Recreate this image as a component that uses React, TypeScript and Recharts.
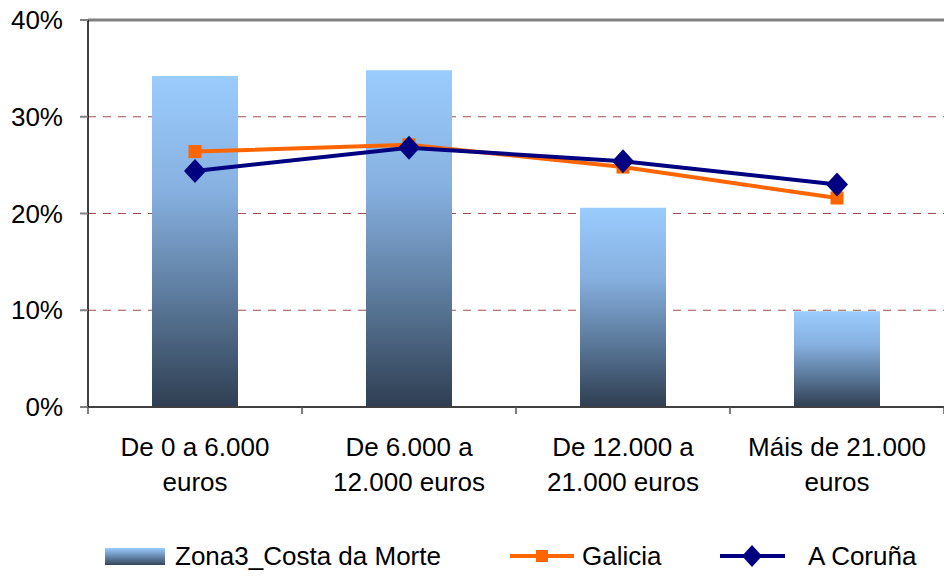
import React from 'react';
import { ComposedChart, Bar, Line, XAxis, YAxis, CartesianGrid, ReferenceLine, Legend } from 'recharts';

const categories = ['De 0 a 6.000 euros', 'De 6.000 a 12.000 euros', 'De 12.000 a 21.000 euros', 'Máis de 21.000 euros'];
const categoryLines = [
  ['De 0 a 6.000', 'euros'],
  ['De 6.000 a', '12.000 euros'],
  ['De 12.000 a', '21.000 euros'],
  ['Máis de 21.000', 'euros'],
];
const zona3Values = [34.2, 34.8, 20.6, 9.9];
const galiciaValues = [26.4, 27.1, 24.8, 21.6];
const corunaValues = [24.4, 26.8, 25.4, 23.0];
const yTicks = [0, 10, 20, 30, 40];

const data = categories.map((name, i) => ({
  name,
  zona3: zona3Values[i],
  galicia: galiciaValues[i],
  coruna: corunaValues[i],
}));

const FONT = '"Liberation Sans", Arial, sans-serif';

const CategoryTick = (props: any) => {
  const { x, y, payload } = props;
  const idx = categories.indexOf(payload.value);
  const half = payload.offset ?? 0;
  const lines = categoryLines[idx] || [payload.value];
  return (
    <g>
      <line x1={x - half} y1={y} x2={x - half} y2={y + 7} stroke="#555" strokeWidth={1.5} />
      {idx === categories.length - 1 && (
        <line x1={x + half} y1={y} x2={x + half} y2={y + 7} stroke="#555" strokeWidth={1.5} />
      )}
      <text x={x} y={y + 49} textAnchor="middle" fontSize={26} fill="#000" fontFamily={FONT}>
        {lines[0]}
      </text>
      <text x={x} y={y + 84} textAnchor="middle" fontSize={26} fill="#000" fontFamily={FONT}>
        {lines[1]}
      </text>
    </g>
  );
};

// square marker for Galicia
const SquareDot = (p: any) => (
  <rect key={`g-${p.index}`} x={p.cx - 6.5} y={p.cy - 6.5} width={13} height={13} fill="#FF6600" />
);

// diamond marker for A Coruña
const DiamondDot = (p: any) => (
  <polygon
    key={`c-${p.index}`}
    points={`${p.cx},${p.cy - 12} ${p.cx + 11},${p.cy} ${p.cx},${p.cy + 12} ${p.cx - 11},${p.cy}`}
    fill="#000080"
  />
);

const LegendContent = () => (
  <svg width={944} height={40} style={{ display: 'block' }}>
    <defs>
      <linearGradient id="legendGrad" x1="0" y1="0" x2="0" y2="1">
        <stop offset="0%" stopColor="#99CCFF" />
        <stop offset="100%" stopColor="#34465C" />
      </linearGradient>
    </defs>
    <rect x={105} y={12} width={60} height={17} fill="url(#legendGrad)" />
    <text x={175} y={29} fontSize={26} fontFamily={FONT} fill="#000">Zona3_Costa da Morte</text>
    <line x1={510} y1={20} x2={574} y2={20} stroke="#FF6600" strokeWidth={4} />
    <rect x={536} y={14} width={12} height={12} fill="#FF6600" />
    <text x={582} y={29} fontSize={26} fontFamily={FONT} fill="#000">Galicia</text>
    <line x1={720} y1={20} x2={785} y2={20} stroke="#000080" strokeWidth={4} />
    <polygon points="752,9 762,20 752,31 742,20" fill="#000080" />
    <text x={808} y={29} fontSize={26} fontFamily={FONT} fill="#000">A Coruña</text>
  </svg>
);

export default function App() {
  return (
    <div style={{ position: 'absolute', left: 0, top: 0, background: '#fff' }}>
      <ComposedChart width={944} height={576} data={data} margin={{ top: 20, right: 0, bottom: 0, left: 0 }}>
        <defs>
          <linearGradient id="barGrad" x1="0" y1="0" x2="0" y2="1">
            <stop offset="0%" stopColor="#9ACCFD" />
            <stop offset="35%" stopColor="#86B0E0" />
            <stop offset="70%" stopColor="#587595" />
            <stop offset="100%" stopColor="#2F3E52" />
          </linearGradient>
        </defs>
        <CartesianGrid vertical={false} stroke="#A05050" strokeDasharray="8 7" strokeWidth={1.2} />
        <XAxis
          dataKey="name"
          height={129}
          tickLine={false}
          tickSize={0}
          tickMargin={0}
          interval={0}
          axisLine={{ stroke: '#404040', strokeWidth: 2 }}
          tick={<CategoryTick />}
        />
        <YAxis
          width={88}
          domain={[0, 40]}
          ticks={yTicks}
          tickFormatter={(v: number) => `${v}%`}
          tickSize={8}
          tickMargin={17}
          tickLine={{ stroke: '#808080', strokeWidth: 2 }}
          axisLine={{ stroke: '#000', strokeWidth: 1.5 }}
          tick={{ fontSize: 26, fill: '#000', fontFamily: FONT }}
        />
        <ReferenceLine y={40} stroke="#808080" strokeWidth={3} />
        <Bar dataKey="zona3" fill="url(#barGrad)" barSize={86} isAnimationActive={false} />
        <Line
          dataKey="galicia"
          stroke="#FF6600"
          strokeWidth={4}
          dot={SquareDot}
          activeDot={false}
          isAnimationActive={false}
        />
        <Line
          dataKey="coruna"
          stroke="#000080"
          strokeWidth={4}
          dot={DiamondDot}
          activeDot={false}
          isAnimationActive={false}
        />
        <Legend verticalAlign="bottom" height={40} content={<LegendContent />} />
      </ComposedChart>
    </div>
  );
}
